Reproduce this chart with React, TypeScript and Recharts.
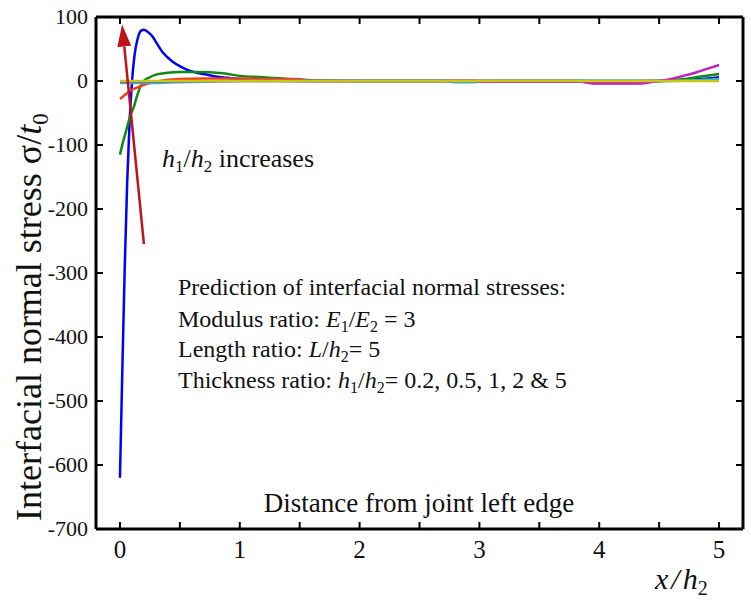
import { Line, LineChart, XAxis, YAxis } from "recharts";

// stress curves, x = x/h2, y = sigma/t0
const blue = [
  { x: 0, y: -620 }, { x: 0.02, y: -450 }, { x: 0.04, y: -290 }, { x: 0.06, y: -160 },
  { x: 0.08, y: -65 }, { x: 0.1, y: -2 }, { x: 0.12, y: 38 }, { x: 0.15, y: 68 },
  { x: 0.18, y: 79 }, { x: 0.2, y: 80 }, { x: 0.23, y: 77 }, { x: 0.27, y: 70 },
  { x: 0.31, y: 58 }, { x: 0.36, y: 44 }, { x: 0.44, y: 30 }, { x: 0.51, y: 22 },
  { x: 0.58, y: 16 }, { x: 0.64, y: 13 }, { x: 0.72, y: 10 }, { x: 0.8, y: 7 },
  { x: 0.9, y: 5 }, { x: 1.0, y: 3 }, { x: 1.2, y: 1 }, { x: 1.5, y: 0 },
  { x: 2.5, y: 0 }, { x: 3.5, y: 0 }, { x: 4.5, y: 0 }, { x: 4.7, y: 1 },
  { x: 4.85, y: 3 }, { x: 5, y: 6 }
];
const green = [
  { x: 0, y: -115 }, { x: 0.03, y: -92 }, { x: 0.06, y: -72 }, { x: 0.09, y: -52 },
  { x: 0.12, y: -38 }, { x: 0.14, y: -25 }, { x: 0.17, y: -9 }, { x: 0.2, y: 0 },
  { x: 0.24, y: 5 }, { x: 0.3, y: 10 }, { x: 0.4, y: 13 }, { x: 0.5, y: 14 },
  { x: 0.64, y: 14 }, { x: 0.86, y: 12 }, { x: 1.0, y: 8 }, { x: 1.2, y: 6 },
  { x: 1.4, y: 3 }, { x: 1.6, y: 1 }, { x: 2, y: 0 }, { x: 3, y: 0 },
  { x: 4, y: 0 }, { x: 4.5, y: 0 }, { x: 4.7, y: 3 }, { x: 4.85, y: 7 }, { x: 5, y: 11 }
];
const red = [
  { x: 0, y: -28 }, { x: 0.04, y: -22 }, { x: 0.08, y: -16 }, { x: 0.12, y: -12 },
  { x: 0.16, y: -9 }, { x: 0.2, y: -6 }, { x: 0.25, y: -3 }, { x: 0.3, y: -1 },
  { x: 0.4, y: 2 }, { x: 0.5, y: 3 }, { x: 0.7, y: 4 }, { x: 1.0, y: 4 },
  { x: 1.3, y: 3 }, { x: 1.47, y: 3 }, { x: 1.6, y: 0 }, { x: 3.8, y: 0 },
  { x: 3.95, y: -3 }, { x: 4.3, y: -3 }, { x: 4.45, y: 0 }, { x: 4.8, y: 1 }, { x: 5, y: 2 }
];
const cyan = [
  { x: 0, y: -3 }, { x: 0.3, y: -3 }, { x: 0.47, y: -2 }, { x: 0.7, y: -1 },
  { x: 1, y: 0 }, { x: 2.7, y: 0 }, { x: 2.8, y: -2 }, { x: 2.95, y: -2 },
  { x: 3.05, y: 0 }, { x: 4, y: 0 }, { x: 4.6, y: 0 }, { x: 4.8, y: 1 }, { x: 5, y: 3 }
];
const magenta = [
  { x: 0, y: -1 }, { x: 1, y: 0 }, { x: 2.95, y: 0 }, { x: 3.0, y: -1 },
  { x: 3.85, y: -1 }, { x: 3.95, y: -4 }, { x: 4.35, y: -4 }, { x: 4.45, y: -1 },
  { x: 4.57, y: 2 }, { x: 4.7, y: 8 }, { x: 4.8, y: 13 }, { x: 4.9, y: 19 }, { x: 5, y: 25 }
];
const yellow = [{ x: 0, y: 0 }, { x: 5, y: 0 }];

// "h1/h2 increases" arrow, tail to head
const arrow = [{ x: 0.2, y: -255 }, { x: 0.036, y: 54 }];

const xTicks = [0, 0.5, 1, 1.5, 2, 2.5, 3, 3.5, 4, 4.5, 5];
const yTicks = [100, 0, -100, -200, -300, -400, -500, -600, -700];

const serif = "Liberation Serif";

function BottomTick({ x, y, payload }: any) {
  const v = payload.value;
  return (
    <g>
      <line x1={x} x2={x} y1={y} y2={y - 7} stroke="#000" strokeWidth={2} />
      {Number.isInteger(v) && (
        <text x={x} y={y + 29} textAnchor="middle" style={{ fontFamily: serif, fontSize: 25 }} fill="#111">
          {v}
        </text>
      )}
    </g>
  );
}

function TopTick({ x, y }: any) {
  return <line x1={x} x2={x} y1={y} y2={y + 7} stroke="#000" strokeWidth={2} />;
}

function LeftTick({ x, y, payload }: any) {
  return (
    <g>
      <line x1={x} x2={x + 7} y1={y} y2={y} stroke="#000" strokeWidth={2} />
      <text x={x - 8} y={y + 7} textAnchor="end" style={{ fontFamily: serif, fontSize: 22 }} fill="#111">
        {payload.value}
      </text>
    </g>
  );
}

function RightTick({ x, y }: any) {
  return <line x1={x} x2={x - 7} y1={y} y2={y} stroke="#000" strokeWidth={2} />;
}

const axisLine = { stroke: "#000", strokeWidth: 3 };

export default function App() {
  const series = [
    { data: blue, color: "#0000ff" },
    { data: green, color: "#128a12" },
    { data: red, color: "#f03c1e" },
    { data: cyan, color: "#14c0c0" },
    { data: magenta, color: "#c020c0" },
    { data: yellow, color: "#c8c814" }
  ];
  return (
    <div style={{ position: "absolute", left: 0, top: 0, width: 751, height: 608, background: "#fff" }}>
      <LineChart width={751} height={608} margin={{ top: 16, right: 7, bottom: 78, left: 95 }}>
        <defs>
          <marker id="arrowHead" markerWidth={22} markerHeight={14} refX={0} refY={7} orient="auto" markerUnits="userSpaceOnUse">
            <path d="M0,0 L22,7 L0,14 z" fill="#c0121a" />
          </marker>
        </defs>
        <XAxis xAxisId="b" type="number" dataKey="x" domain={[-0.2, 5.2]} ticks={xTicks} interval={0}
          allowDataOverflow height={1} tickSize={0} tickMargin={0} tickLine={false} axisLine={axisLine} tick={BottomTick} />
        <XAxis xAxisId="t" orientation="top" type="number" dataKey="x" domain={[-0.2, 5.2]} ticks={xTicks} interval={0}
          allowDataOverflow height={1} tickSize={0} tickMargin={0} tickLine={false} axisLine={axisLine} tick={TopTick} />
        <YAxis yAxisId="l" type="number" domain={[-700, 100]} ticks={yTicks} interval={0}
          allowDataOverflow width={1} tickSize={0} tickMargin={0} tickLine={false} axisLine={axisLine} tick={LeftTick} />
        <YAxis yAxisId="r" orientation="right" type="number" domain={[-700, 100]} ticks={yTicks} interval={0}
          allowDataOverflow width={1} tickSize={0} tickMargin={0} tickLine={false} axisLine={axisLine} tick={RightTick} />
        {series.map((s, i) => (
          <Line key={i} xAxisId="b" yAxisId="l" data={s.data} dataKey="y" type="monotone"
            stroke={s.color} strokeWidth={2.5} dot={false} isAnimationActive={false} />
        ))}
        <Line xAxisId="b" yAxisId="l" data={arrow} dataKey="y" type="linear" stroke="#c0121a"
          strokeWidth={2.5} dot={false} markerEnd="url(#arrowHead)" isAnimationActive={false} />
      </LineChart>
      <svg width={751} height={608} style={{ position: "absolute", left: 0, top: 0, pointerEvents: "none", fontFamily: serif }}
        fill="#111">
        <text transform="translate(41,521) rotate(-90)" fontSize={36}>
          Interfacial normal stress σ/<tspan fontStyle="italic">t</tspan>
          <tspan fontSize={23} dy={7}>0</tspan>
        </text>
        <text x={162} y={167} fontSize={26}>
          <tspan fontStyle="italic">h</tspan><tspan fontSize={17} dy={5}>1</tspan>
          <tspan dy={-5}>/</tspan><tspan fontStyle="italic">h</tspan><tspan fontSize={17} dy={5}>2</tspan>
          <tspan dy={-5}> increases</tspan>
        </text>
        <text x={178} y={295} fontSize={24}>Prediction of interfacial normal stresses:</text>
        <text x={178} y={327} fontSize={24}>
          Modulus ratio: <tspan fontStyle="italic">E</tspan><tspan fontSize={16} dy={5}>1</tspan>
          <tspan dy={-5}>/</tspan><tspan fontStyle="italic">E</tspan><tspan fontSize={16} dy={5}>2</tspan>
          <tspan dy={-5}> = 3</tspan>
        </text>
        <text x={178} y={357} fontSize={24}>
          Length ratio: <tspan fontStyle="italic">L</tspan>/<tspan fontStyle="italic">h</tspan>
          <tspan fontSize={16} dy={5}>2</tspan><tspan dy={-5}>= 5</tspan>
        </text>
        <text x={178} y={388} fontSize={24}>
          Thickness ratio: <tspan fontStyle="italic">h</tspan><tspan fontSize={16} dy={5}>1</tspan>
          <tspan dy={-5}>/</tspan><tspan fontStyle="italic">h</tspan><tspan fontSize={16} dy={5}>2</tspan>
          <tspan dy={-5}>= 0.2, 0.5, 1, 2 &amp; 5</tspan>
        </text>
        <text x={419} y={512} textAnchor="middle" fontSize={27}>Distance from joint left edge</text>
        <text x={655} y={589} fontSize={30} fontStyle="italic">
          x<tspan dx={3}>/</tspan><tspan dx={3}>h</tspan><tspan fontSize={20} dy={6} fontStyle="normal">2</tspan>
        </text>
      </svg>
    </div>
  );
}
